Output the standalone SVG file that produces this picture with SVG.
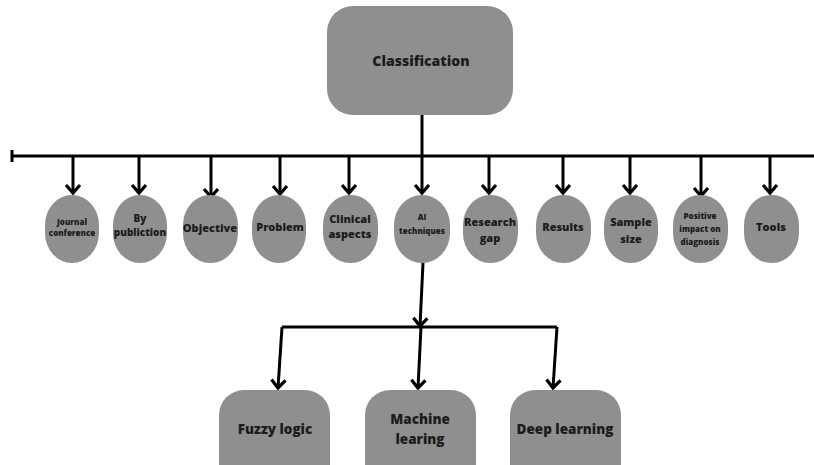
<svg xmlns="http://www.w3.org/2000/svg" width="814" height="465" viewBox="0 0 814 465">
  <style>
    .box { fill: #8f8f8f; }
    .lbl { font-family: "Open Sans", "Liberation Sans", sans-serif; font-weight: 800; fill: #1c1c1c; text-anchor: middle; }
    .wire { stroke: #000; stroke-width: 3; fill: none; }
    .head { stroke: #000; stroke-width: 3.2; fill: none; stroke-linejoin: miter; }
  </style>
  <defs>
    <!-- open chevron arrowhead, drawn pointing along +x -->
    <marker id="chev" markerUnits="userSpaceOnUse" markerWidth="13" markerHeight="18" refX="10" refY="9" orient="auto" viewBox="0 0 13 18">
      <path d="M2,2 L10,9 L2,16" class="head"/>
    </marker>
  </defs>
  <rect width="814" height="465" fill="#ffffff"/>

  <!-- connectors -->
  <g id="connectors">
    <line class="wire" x1="422" y1="114" x2="422" y2="156"/>
    <line class="wire" x1="12" y1="156" x2="814" y2="156"/>
    <line class="wire" x1="12" y1="150" x2="12" y2="162"/>
    <g marker-end="url(#chev)">
      <line class="wire" x1="73" y1="156" x2="73" y2="193"/>
      <line class="wire" x1="139" y1="156" x2="139" y2="193"/>
      <line class="wire" x1="211" y1="156" x2="211" y2="197"/>
      <line class="wire" x1="280" y1="156" x2="280" y2="194"/>
      <line class="wire" x1="349" y1="156" x2="349" y2="193"/>
      <line class="wire" x1="422" y1="156" x2="422" y2="193"/>
      <line class="wire" x1="489" y1="156" x2="489" y2="193"/>
      <line class="wire" x1="563" y1="156" x2="563" y2="193"/>
      <line class="wire" x1="630" y1="156" x2="630" y2="193"/>
      <line class="wire" x1="701" y1="156" x2="701" y2="196"/>
      <line class="wire" x1="770" y1="156" x2="770" y2="193"/>
      <line class="wire" x1="423" y1="263" x2="420" y2="326"/>
      <line class="wire" x1="282" y1="327" x2="278" y2="388"/>
      <line class="wire" x1="421" y1="327" x2="418" y2="388"/>
      <line class="wire" x1="557" y1="327" x2="553" y2="388"/>
    </g>
    <polyline class="wire" points="282,327 557,327"/>
  </g>

  <!-- root -->
  <g id="classification">
    <rect class="box" x="327" y="6" width="186" height="109" rx="26"/>
    <text class="lbl" x="421" y="66" font-size="14">Classification</text>
  </g>

  <!-- first level -->
  <g id="journal-conference">
    <rect class="box" x="45" y="195" width="54" height="68" rx="27" ry="30"/>
    <text class="lbl" x="72" y="225" font-size="8">Journal</text>
    <text class="lbl" x="72" y="236" font-size="8">conference</text>
  </g>
  <g id="by-publiction">
    <rect class="box" x="113" y="195" width="54" height="68" rx="27" ry="30"/>
    <text class="lbl" x="140" y="222" font-size="10">By</text>
    <text class="lbl" x="140" y="236" font-size="10">publiction</text>
  </g>
  <g id="objective">
    <rect class="box" x="183" y="195" width="55" height="68" rx="27" ry="30"/>
    <text class="lbl" x="210" y="232" font-size="11">Objective</text>
  </g>
  <g id="problem">
    <rect class="box" x="252" y="195" width="54" height="68" rx="27" ry="30"/>
    <text class="lbl" x="280" y="231" font-size="11">Problem</text>
  </g>
  <g id="clinical-aspects">
    <rect class="box" x="323" y="195" width="55" height="68" rx="27" ry="30"/>
    <text class="lbl" x="350" y="223" font-size="11">Clinical</text>
    <text class="lbl" x="350" y="238" font-size="11">aspects</text>
  </g>
  <g id="ai-techniques">
    <rect class="box" x="394" y="195" width="56" height="68" rx="28" ry="30"/>
    <text class="lbl" x="422" y="220" font-size="8">AI</text>
    <text class="lbl" x="422" y="234" font-size="8">techniques</text>
  </g>
  <g id="research-gap">
    <rect class="box" x="463" y="195" width="55" height="68" rx="27" ry="30"/>
    <text class="lbl" x="490" y="226" font-size="11">Research</text>
    <text class="lbl" x="490" y="242" font-size="11">gap</text>
  </g>
  <g id="results">
    <rect class="box" x="536" y="195" width="55" height="68" rx="27" ry="30"/>
    <text class="lbl" x="563" y="231" font-size="11">Results</text>
  </g>
  <g id="sample-size">
    <rect class="box" x="604" y="195" width="54" height="68" rx="27" ry="30"/>
    <text class="lbl" x="631" y="226" font-size="11">Sample</text>
    <text class="lbl" x="631" y="243" font-size="11">size</text>
  </g>
  <g id="positive-impact">
    <rect class="box" x="673" y="195" width="55" height="68" rx="27" ry="30"/>
    <text class="lbl" x="700" y="219" font-size="8">Positive</text>
    <text class="lbl" x="700" y="232" font-size="8">impact on</text>
    <text class="lbl" x="700" y="245" font-size="8">diagnosis</text>
  </g>
  <g id="tools">
    <rect class="box" x="744" y="195" width="55" height="68" rx="27" ry="30"/>
    <text class="lbl" x="771" y="231" font-size="11">Tools</text>
  </g>

  <!-- second level -->
  <g id="fuzzy-logic">
    <rect class="box" x="219" y="390" width="111" height="100" rx="25"/>
    <text class="lbl" x="275" y="434" font-size="13.5">Fuzzy logic</text>
  </g>
  <g id="machine-learing">
    <rect class="box" x="365" y="390" width="111" height="100" rx="25"/>
    <text class="lbl" x="420" y="424" font-size="13.5">Machine</text>
    <text class="lbl" x="420" y="444" font-size="13.5">learing</text>
  </g>
  <g id="deep-learning">
    <rect class="box" x="510" y="390" width="111" height="100" rx="25"/>
    <text class="lbl" x="565" y="434" font-size="13.5">Deep learning</text>
  </g>
</svg>
